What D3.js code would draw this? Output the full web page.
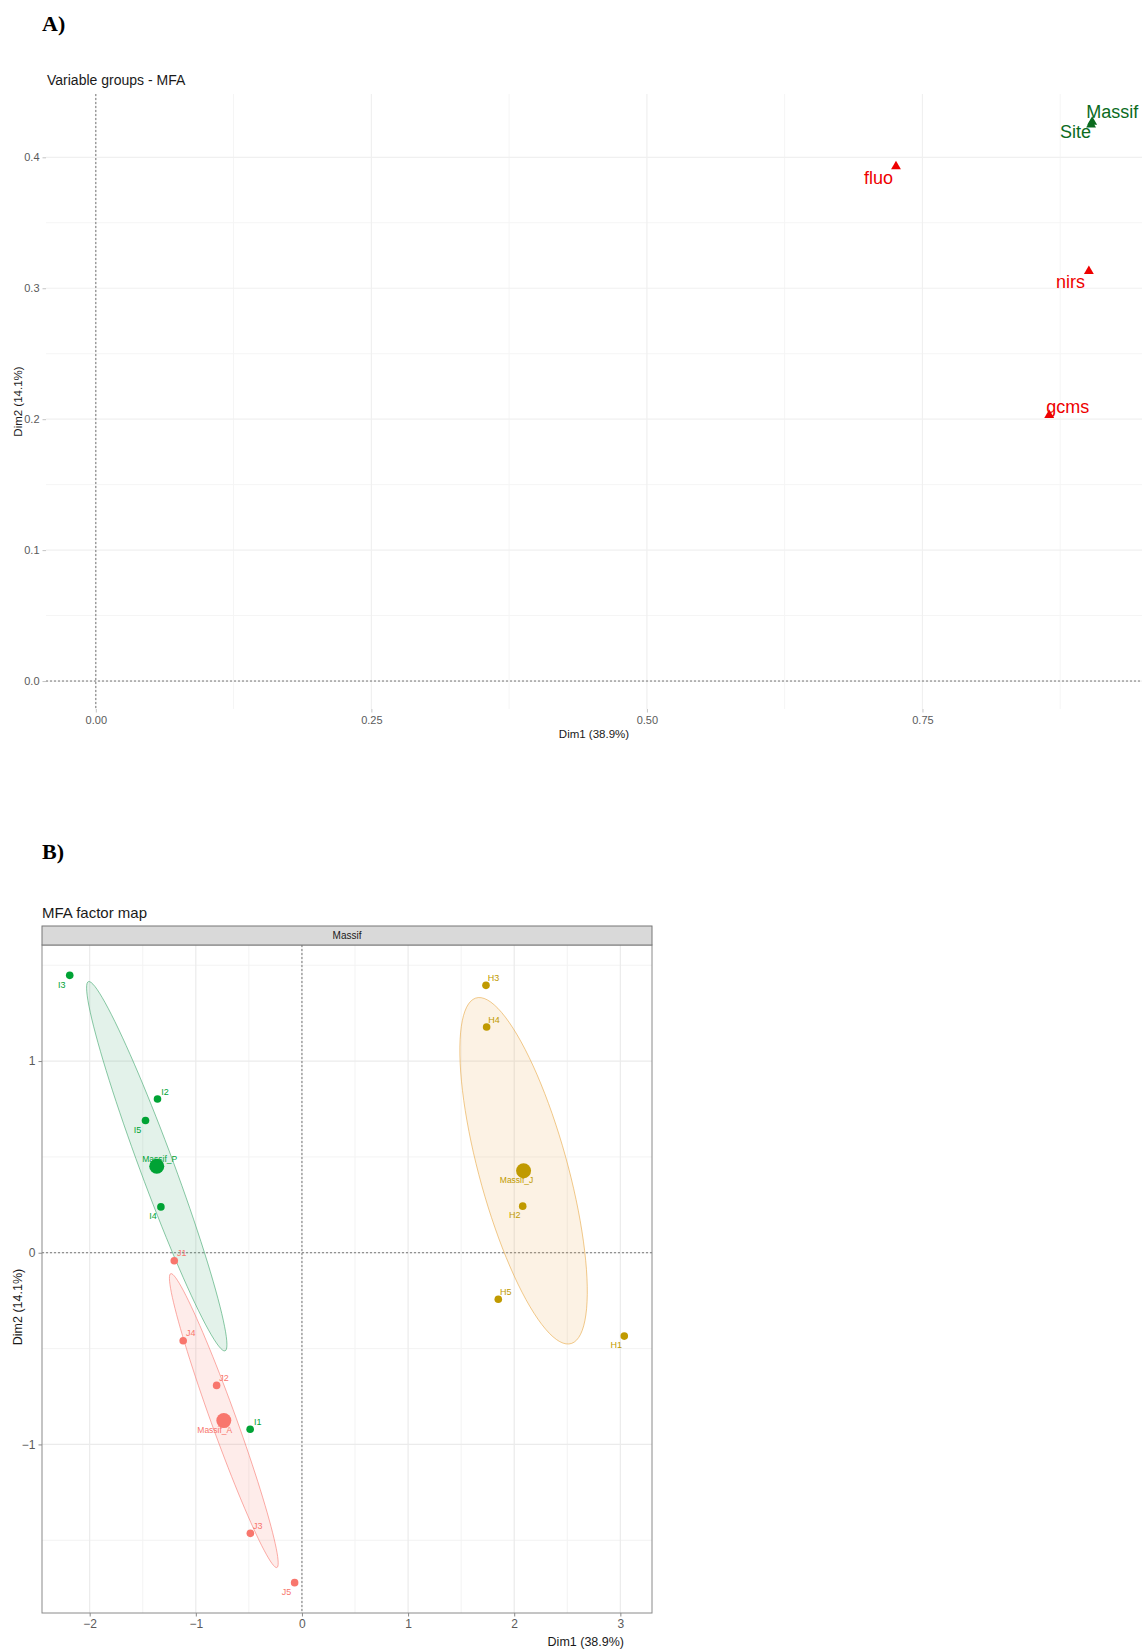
<!DOCTYPE html>
<html lang="en">
<head>
<meta charset="UTF-8">
<title>MFA</title>
<script src="https://d3js.org/d3.v7.min.js"></script>
<style>
    body { margin: 0; background: #fff; }
    text { font-family: "Liberation Sans", Arial, sans-serif; }
</style>
</head>
<body>
<script>
    // ---- panel A: variable groups ----
    var groupNames = ["gcms", "nirs", "fluo", "Massif", "Site"];
    var groupDim1 = [0.865, 0.901, 0.726, 0.904, 0.903];
    var groupDim2 = [0.203, 0.313, 0.393, 0.427, 0.425];
    var groupActive = [true, true, true, false, false];
    var xTicksA = [0, 0.25, 0.5, 0.75];
    var yTicksA = [0, 0.1, 0.2, 0.3, 0.4];

    // ---- panel B: individuals ----
    var indNames = ["I1", "I2", "I3", "I4", "I5",
                    "J1", "J2", "J3", "J4", "J5",
                    "H1", "H2", "H3", "H4", "H5"];
    var indDim1 = [-0.488, -1.361, -2.188, -1.329, -1.474,
                   -1.203, -0.804, -0.486, -1.119, -0.069,
                    3.037,  2.080,  1.734,  1.740,  1.850];
    var indDim2 = [-0.921, 0.802, 1.447, 0.239, 0.690,
                   -0.042, -0.692, -1.464, -0.459, -1.721,
                   -0.435, 0.243, 1.395, 1.178, -0.243];
    var indMassif = ["Massif_P", "Massif_P", "Massif_P", "Massif_P", "Massif_P",
                     "Massif_A", "Massif_A", "Massif_A", "Massif_A", "Massif_A",
                     "Massif_J", "Massif_J", "Massif_J", "Massif_J", "Massif_J"];
    var massifLevels = ["Massif_A", "Massif_J", "Massif_P"];
    var xTicksB = [-2, -1, 0, 1, 2, 3];
    var yTicksB = [-1, 0, 1];

    var W = 1142, H = 1652;
    var svg = d3.select("body").append("svg")
        .attr("width", W)
        .attr("height", H)
        .style("background", "#fff");

    function expand(ext) {
        var pad = (ext[1] - ext[0]) * 0.05;
        return [ext[0] - pad, ext[1] + pad];
    }
    function minors(ticks, dom) {
        var step = ticks[1] - ticks[0];
        var out = [];
        for (var i = -1; i < ticks.length; i++) {
            var m = ticks[0] + step * (i + 0.5);
            if (m > dom[0] && m < dom[1]) out.push(m);
        }
        return out;
    }

    var tickCol = "#5a5a5a";

    // ================= A =================
    svg.append("text").attr("x", 42).attr("y", 31)
        .style("font-family", "'Liberation Serif', 'Times New Roman', serif")
        .attr("font-weight", "bold").attr("font-size", 22).text("A)");

    var boxA = { left: 46, right: 1142, top: 94, bottom: 709 };
    var xA = d3.scaleLinear().domain(expand([0, d3.max(groupDim1)])).range([boxA.left, boxA.right]);
    var yA = d3.scaleLinear().domain(expand([0, d3.max(groupDim2)])).range([boxA.bottom, boxA.top]);

    var gA = svg.append("g");
    gA.selectAll(".minx").data(minors(xTicksA, xA.domain())).enter().append("line")
        .attr("x1", d => xA(d)).attr("x2", d => xA(d))
        .attr("y1", boxA.top).attr("y2", boxA.bottom)
        .attr("stroke", "#f5f5f5").attr("stroke-width", 1);
    gA.selectAll(".miny").data(minors(yTicksA, yA.domain())).enter().append("line")
        .attr("y1", d => yA(d)).attr("y2", d => yA(d))
        .attr("x1", boxA.left).attr("x2", boxA.right)
        .attr("stroke", "#f5f5f5").attr("stroke-width", 1);
    gA.selectAll(".majx").data(xTicksA).enter().append("line")
        .attr("x1", d => xA(d)).attr("x2", d => xA(d))
        .attr("y1", boxA.top).attr("y2", boxA.bottom)
        .attr("stroke", "#f0f0f0").attr("stroke-width", 1.2);
    gA.selectAll(".majy").data(yTicksA).enter().append("line")
        .attr("y1", d => yA(d)).attr("y2", d => yA(d))
        .attr("x1", boxA.left).attr("x2", boxA.right)
        .attr("stroke", "#f0f0f0").attr("stroke-width", 1.2);

    // axes (no domain line, only small ticks)
    var axAx = gA.append("g").attr("transform", "translate(0," + boxA.bottom + ")")
        .call(d3.axisBottom(xA).tickValues(xTicksA).tickFormat(d3.format(".2f")).tickSize(3.5).tickPadding(4));
    var axAy = gA.append("g").attr("transform", "translate(" + boxA.left + ",0)")
        .call(d3.axisLeft(yA).tickValues(yTicksA).tickFormat(d3.format(".1f")).tickSize(3.5).tickPadding(3));
    [axAx, axAy].forEach(function(a) {
        a.select(".domain").remove();
        a.selectAll("line").attr("stroke", "#c4c4c4");
        a.selectAll("text").attr("fill", tickCol).attr("font-size", 11)
            .style("font-family", "'Liberation Sans', Arial, sans-serif");
    });

    // reference lines
    gA.append("line").attr("x1", xA(0)).attr("x2", xA(0)).attr("y1", boxA.top).attr("y2", boxA.bottom)
        .attr("stroke", "#555").attr("stroke-width", 0.8).attr("stroke-dasharray", "2,2");
    gA.append("line").attr("y1", yA(0)).attr("y2", yA(0)).attr("x1", boxA.left).attr("x2", boxA.right)
        .attr("stroke", "#555").attr("stroke-width", 0.8).attr("stroke-dasharray", "2,2");

    var groups = groupNames.map(function(n, i) {
        return { name: n, x: groupDim1[i], y: groupDim2[i], active: groupActive[i] };
    });
    var colA = function(d) { return d.active ? "#ee0000" : "#0b6b1e"; };
    // label placement (repel-like nudges, in px)
    var nudgeA = {
        gcms:   { dx: -3,  dy: -2,  anchor: "start" },
        nirs:   { dx: -33, dy: 17,  anchor: "start" },
        fluo:   { dx: -3,  dy: 18,  anchor: "end" },
        Massif: { dx: -6,  dy: -4,  anchor: "start" },
        Site:   { dx: -31, dy: 13,  anchor: "start" }
    };
    gA.selectAll(".tri").data(groups).enter().append("path")
        .attr("d", d3.symbol(d3.symbolTriangle, 42))
        .attr("transform", d => "translate(" + xA(d.x) + "," + yA(d.y) + ")")
        .attr("fill", colA);
    gA.selectAll(".lab").data(groups).enter().append("text")
        .attr("x", d => xA(d.x) + nudgeA[d.name].dx)
        .attr("y", d => yA(d.y) + nudgeA[d.name].dy)
        .attr("text-anchor", d => nudgeA[d.name].anchor)
        .attr("font-size", 18)
        .attr("fill", colA)
        .text(d => d.name);

    svg.append("text").attr("x", 47).attr("y", 85).attr("font-size", 14).attr("fill", "#1a1a1a")
        .text("Variable groups - MFA");
    svg.append("text").attr("x", (boxA.left + boxA.right) / 2).attr("y", 738)
        .attr("text-anchor", "middle").attr("font-size", 11.5).attr("fill", "#1a1a1a")
        .text("Dim1 (38.9%)");
    svg.append("text").attr("transform", "translate(22," + ((boxA.top + boxA.bottom) / 2) + ") rotate(-90)")
        .attr("text-anchor", "middle").attr("font-size", 11.5).attr("fill", "#1a1a1a")
        .text("Dim2 (14.1%)");

    // ================= B =================
    svg.append("text").attr("x", 42).attr("y", 859)
        .style("font-family", "'Liberation Serif', 'Times New Roman', serif")
        .attr("font-weight", "bold").attr("font-size", 22).text("B)");

    var boxB = { left: 42, right: 652, top: 945, bottom: 1613, strip: 926 };
    var xB = d3.scaleLinear().domain(expand(d3.extent(indDim1))).range([boxB.left, boxB.right]);
    var yB = d3.scaleLinear().domain(expand(d3.extent(indDim2))).range([boxB.bottom, boxB.top]);
    var color = d3.scaleOrdinal().domain(massifLevels).range(["#F8766D", "#C09A00", "#00A335"]);
    var fillCol = d3.scaleOrdinal().domain(massifLevels).range(["#F8766D", "#E8A640", "#3BA56A"]);

    var gB = svg.append("g");
    gB.append("rect").attr("x", boxB.left).attr("y", boxB.top)
        .attr("width", boxB.right - boxB.left).attr("height", boxB.bottom - boxB.top).attr("fill", "#fff");
    gB.selectAll(".minx").data(minors(xTicksB, xB.domain())).enter().append("line")
        .attr("x1", d => xB(d)).attr("x2", d => xB(d)).attr("y1", boxB.top).attr("y2", boxB.bottom)
        .attr("stroke", "#f3f3f3").attr("stroke-width", 1);
    gB.selectAll(".miny").data(minors(yTicksB, yB.domain())).enter().append("line")
        .attr("y1", d => yB(d)).attr("y2", d => yB(d)).attr("x1", boxB.left).attr("x2", boxB.right)
        .attr("stroke", "#f3f3f3").attr("stroke-width", 1);
    gB.selectAll(".majx").data(xTicksB).enter().append("line")
        .attr("x1", d => xB(d)).attr("x2", d => xB(d)).attr("y1", boxB.top).attr("y2", boxB.bottom)
        .attr("stroke", "#ebebeb").attr("stroke-width", 1.2);
    gB.selectAll(".majy").data(yTicksB).enter().append("line")
        .attr("y1", d => yB(d)).attr("y2", d => yB(d)).attr("x1", boxB.left).attr("x2", boxB.right)
        .attr("stroke", "#ebebeb").attr("stroke-width", 1.2);

    gB.append("line").attr("x1", xB(0)).attr("x2", xB(0)).attr("y1", boxB.top).attr("y2", boxB.bottom)
        .attr("stroke", "#555").attr("stroke-width", 0.8).attr("stroke-dasharray", "2,2");
    gB.append("line").attr("y1", yB(0)).attr("y2", yB(0)).attr("x1", boxB.left).attr("x2", boxB.right)
        .attr("stroke", "#555").attr("stroke-width", 0.8).attr("stroke-dasharray", "2,2");

    var inds = indNames.map(function(n, i) {
        return { name: n, x: indDim1[i], y: indDim2[i], g: indMassif[i] };
    });

    // confidence ellipses around each massif mean
    var ellipses = massifLevels.map(function(lev) {
        var pts = inds.filter(d => d.g === lev);
        var n = pts.length;
        var mx = d3.mean(pts, d => d.x), my = d3.mean(pts, d => d.y);
        var sxx = d3.sum(pts, d => (d.x - mx) * (d.x - mx)) / (n - 1);
        var syy = d3.sum(pts, d => (d.y - my) * (d.y - my)) / (n - 1);
        var sxy = d3.sum(pts, d => (d.x - mx) * (d.y - my)) / (n - 1);
        var tr = sxx + syy, det = sxx * syy - sxy * sxy;
        var disc = Math.sqrt(tr * tr / 4 - det);
        var l1 = tr / 2 + disc, l2 = tr / 2 - disc;
        var vx = sxy, vy = l1 - sxx, vn = Math.hypot(vx, vy);
        vx /= vn; vy /= vn;
        var c = Math.sqrt(5.991 / n);
        var a = c * Math.sqrt(l1), b = c * Math.sqrt(Math.max(l2, 0));
        var ring = d3.range(0, 101).map(function(k) {
            var t = 2 * Math.PI * k / 100;
            return [mx + a * Math.cos(t) * vx - b * Math.sin(t) * vy,
                    my + a * Math.cos(t) * vy + b * Math.sin(t) * vx];
        });
        return { g: lev, mx: mx, my: my, ring: ring };
    });

    var line = d3.line().x(d => xB(d[0])).y(d => yB(d[1]));
    gB.selectAll(".ell").data(ellipses).enter().append("path")
        .attr("d", d => line(d.ring) + "Z")
        .attr("fill", d => fillCol(d.g)).attr("fill-opacity", 0.14)
        .attr("stroke", d => fillCol(d.g)).attr("stroke-width", 0.8).attr("stroke-opacity", 0.75);

    gB.selectAll(".pt").data(inds).enter().append("circle")
        .attr("cx", d => xB(d.x)).attr("cy", d => yB(d.y)).attr("r", 3.8)
        .attr("fill", d => color(d.g));
    gB.selectAll(".cen").data(ellipses).enter().append("circle")
        .attr("cx", d => xB(d.mx)).attr("cy", d => yB(d.my)).attr("r", 7.5)
        .attr("fill", d => color(d.g));

    // label nudges (px): ur = upper right, bl = bottom left
    var posB = {
        I1: "ur", I2: "ur", I3: "bl", I4: "bl", I5: "bl",
        J1: "ur", J2: "ur", J3: "ur", J4: "ur", J5: "bl",
        H1: "bl", H2: "bl", H3: "ur", H4: "ur", H5: "ur"
    };
    var off = { ur: [7.5, -7.5], bl: [-8, 9] };
    var cenOff = { Massif_A: [-9, 9], Massif_J: [-7, 9], Massif_P: [3, -7] };

    gB.selectAll(".plab").data(inds).enter().append("text")
        .attr("x", d => xB(d.x) + off[posB[d.name]][0])
        .attr("y", d => yB(d.y) + off[posB[d.name]][1])
        .attr("dy", "0.35em").attr("text-anchor", "middle")
        .attr("font-size", 9).attr("fill", d => color(d.g))
        .text(d => d.name);
    gB.selectAll(".clab").data(ellipses).enter().append("text")
        .attr("x", d => xB(d.mx) + cenOff[d.g][0])
        .attr("y", d => yB(d.my) + cenOff[d.g][1])
        .attr("dy", "0.35em").attr("text-anchor", "middle")
        .attr("font-size", 8.5).attr("fill", d => color(d.g))
        .text(d => d.g);

    // panel border + strip
    gB.append("rect").attr("x", boxB.left).attr("y", boxB.top)
        .attr("width", boxB.right - boxB.left).attr("height", boxB.bottom - boxB.top)
        .attr("fill", "none").attr("stroke", "#8a8a8a").attr("stroke-width", 1);
    gB.append("rect").attr("x", boxB.left).attr("y", boxB.strip)
        .attr("width", boxB.right - boxB.left).attr("height", boxB.top - boxB.strip)
        .attr("fill", "#d9d9d9").attr("stroke", "#777").attr("stroke-width", 1);
    gB.append("text").attr("x", (boxB.left + boxB.right) / 2).attr("y", (boxB.strip + boxB.top) / 2)
        .attr("dy", "0.35em").attr("text-anchor", "middle").attr("font-size", 10).attr("fill", "#1a1a1a")
        .text("Massif");

    var axBx = gB.append("g").attr("transform", "translate(0," + boxB.bottom + ")")
        .call(d3.axisBottom(xB).tickValues(xTicksB).tickFormat(d3.format("d")).tickSize(3.5).tickPadding(3));
    var axBy = gB.append("g").attr("transform", "translate(" + boxB.left + ",0)")
        .call(d3.axisLeft(yB).tickValues(yTicksB).tickFormat(d3.format("d")).tickSize(3.5).tickPadding(3));
    [axBx, axBy].forEach(function(a) {
        a.select(".domain").remove();
        a.selectAll("line").attr("stroke", "#8a8a8a");
        a.selectAll("text").attr("fill", tickCol).attr("font-size", 12)
            .style("font-family", "'Liberation Sans', Arial, sans-serif");
    });

    svg.append("text").attr("x", 42).attr("y", 918).attr("font-size", 15).attr("fill", "#1a1a1a")
        .text("MFA factor map");
    svg.append("text").attr("x", 624).attr("y", 1646)
        .attr("text-anchor", "end").attr("font-size", 12.5).attr("fill", "#1a1a1a")
        .text("Dim1 (38.9%)");
    svg.append("text").attr("transform", "translate(22," + ((boxB.top + boxB.bottom) / 2 + 28) + ") rotate(-90)")
        .attr("text-anchor", "middle").attr("font-size", 12.5).attr("fill", "#1a1a1a")
        .text("Dim2 (14.1%)");
</script>
</body>
</html>
